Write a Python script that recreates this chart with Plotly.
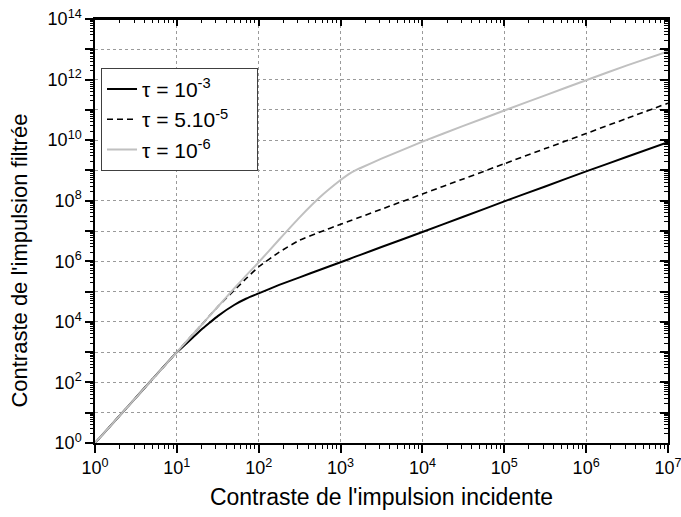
import plotly.graph_objects as go

# Contraste incident (x)
x_vals = [1e0, 3.16e0, 1e1, 1.26e1, 1.58e1, 2.0e1, 2.51e1, 3.16e1, 5.01e1, 7.08e1, 1e2, 1.78e2,
          3.16e2, 5.62e2, 1e3, 1.26e3, 1.58e3, 1.78e3, 3.16e3, 1e4, 3.16e4, 1e5, 3.16e5, 1e6,
          3.16e6, 1e7]

# tau = 1e-3
y_tau1 = [1e0, 3.16e1, 1e3, 1.74e3, 3.09e3, 5.6e3, 9.3e3, 1.55e4, 3.6e4, 5.9e4, 8.7e4, 1.66e5,
          2.95e5, 5.25e5, 9.3e5, 1.17e6, 1.48e6, 1.66e6, 2.95e6, 9.3e6, 2.95e7, 9.5e7, 2.95e8,
          9.3e8, 2.82e9, 8.5e9]
# tau = 5e-5
y_tau2 = [1e0, 3.16e1, 1e3, 2.0e3, 3.98e3, 7.9e3, 1.58e4, 3.16e4, 1.1e5, 2.75e5, 6.6e5, 2.0e6,
          5.0e6, 9.3e6, 1.66e7, 2.09e7, 2.63e7, 2.95e7, 5.25e7, 1.66e8, 5.25e8, 1.66e9, 5.25e9,
          1.66e10, 5.25e10, 1.66e11]
# tau = 1e-6
y_tau3 = [1e0, 3.16e1, 1e3, 2.0e3, 3.98e3, 7.9e3, 1.58e4, 3.16e4, 1.26e5, 3.5e5, 9.3e5, 5.25e6,
          2.82e7, 1.32e8, 4.8e8, 7.6e8, 1.07e9, 1.23e9, 2.45e9, 8.9e9, 2.95e10, 9.5e10, 3.02e11,
          9.5e11, 2.95e12, 8.5e12]

series_names = ["τ = 10<sup>-3</sup>", "τ = 5.10<sup>-5</sup>\u00a0\u00a0\u00a0\u00a0", "τ = 10<sup>-6</sup>"]
x_title = "Contraste de l'impulsion incidente"
y_title = "Contraste de l'impulsion filtrée"

x_tick_exps = [0, 1, 2, 3, 4, 5, 6, 7]
y_label_exps = [0, 2, 4, 6, 8, 10, 12, 14]
y_odd_exps = [1, 3, 5, 7, 9, 11, 13]

FONT = "Liberation Sans, Arial, sans-serif"

x_tickvals = [10 ** e for e in x_tick_exps]
x_ticktext = [f"10<sup>{e}</sup>" for e in x_tick_exps]
x_minor = [m * 10 ** e for e in range(0, 7) for m in range(2, 10)]
y_labvals = [10 ** e for e in y_label_exps]
y_labtext = [f"10<sup>{e}</sup>" for e in y_label_exps]
y_oddvals = [10 ** e for e in y_odd_exps]
y_allvals = [10 ** e for e in range(0, 15)]
y_minor = [m * 10 ** e for e in range(0, 14) for m in range(2, 10)]

fig = go.Figure()
fig.add_trace(go.Scatter(x=x_vals, y=y_tau1, mode="lines", name=series_names[0],
                         line=dict(color="black", width=2, shape="spline", smoothing=0.4)))
fig.add_trace(go.Scatter(x=x_vals, y=y_tau2, mode="lines", name=series_names[1],
                         line=dict(color="black", width=1.6, dash="6px,4px", shape="spline", smoothing=0.4)))
fig.add_trace(go.Scatter(x=x_vals, y=y_tau3, mode="lines", name=series_names[2],
                         line=dict(color="#c0c0c0", width=2, shape="spline", smoothing=0.4)))

GRID = dict(gridcolor="#9a9a9a", gridwidth=1, griddash="dot")

fig.update_layout(
    width=681, height=517,
    margin=dict(l=95, r=13, t=19, b=74),
    paper_bgcolor="white", plot_bgcolor="white",
    font=dict(family=FONT, size=18, color="black"),
    showlegend=True,
    legend=dict(x=0.0105, y=0.885, xanchor="left", yanchor="top",
                bgcolor="white", bordercolor="#404040", borderwidth=1,
                font=dict(family=FONT, size=21), tracegroupgap=2),
    xaxis=dict(type="log", range=[0, 7], tickmode="array", tickvals=x_tickvals, ticktext=x_ticktext,
               ticks="outside", ticklen=8, tickwidth=1.5, tickcolor="black",
               showline=True, linecolor="black", linewidth=1.5, mirror=True, zeroline=False,
               showgrid=True, **GRID, automargin=False, ticklabeloverflow="allow",
               minor=dict(tickmode="array", tickvals=x_minor, ticks="outside", ticklen=4,
                          tickwidth=1, tickcolor="black", showgrid=False),
               title=dict(text=x_title, font=dict(size=23), standoff=12),
               tickfont=dict(size=18)),
    yaxis=dict(type="log", range=[0, 14], tickmode="array", tickvals=y_labvals, ticktext=y_labtext,
               ticks="outside", ticklen=8, tickwidth=1.5, tickcolor="black",
               showline=True, linecolor="black", linewidth=1.5, mirror=True, zeroline=False,
               showgrid=True, **GRID, automargin=False, ticklabeloverflow="allow",
               minor=dict(tickmode="array", tickvals=y_oddvals, ticks="outside", ticklen=8,
                          tickwidth=1.5, tickcolor="black", showgrid=True, **GRID),
               tickfont=dict(size=18)),
    yaxis3=dict(type="log", range=[0, 14], overlaying="y", side="left", anchor="x",
                tickmode="array", tickvals=y_minor, ticks="outside", ticklen=4, tickwidth=1,
                tickcolor="black", showticklabels=False, showline=False, showgrid=False,
                zeroline=False, automargin=False),
    xaxis2=dict(type="log", range=[0, 7], overlaying="x", side="top", anchor="free", position=1,
                tickmode="array", tickvals=x_tickvals, showticklabels=False,
                ticks="inside", ticklen=6, tickwidth=1.5, tickcolor="black",
                showline=True, linecolor="black", linewidth=1.5, showgrid=False,
                zeroline=False, automargin=False,
                minor=dict(tickmode="array", tickvals=x_minor, ticks="inside", ticklen=3,
                           tickwidth=1, tickcolor="black", showgrid=False)),
    yaxis2=dict(type="log", range=[0, 14], overlaying="y", side="right", anchor="x",
                tickmode="array", tickvals=y_allvals, showticklabels=False,
                ticks="inside", ticklen=8, tickwidth=1.5, tickcolor="black",
                showline=True, linecolor="black", linewidth=1.5, showgrid=False,
                zeroline=False, automargin=False,
                minor=dict(tickmode="array", tickvals=y_minor, ticks="inside", ticklen=4,
                           tickwidth=1, tickcolor="black", showgrid=False)),
    annotations=[dict(text=y_title, textangle=-90, xref="paper", yref="paper",
                      x=-0.131, y=0.43, xanchor="center", yanchor="middle",
                      showarrow=False, font=dict(family=FONT, size=22, color="black"))],
)

# invisible traces to activate the extra tick axes
fig.add_trace(go.Scatter(x=[x_vals[0]], y=[y_tau1[0]], xaxis="x2", yaxis="y", mode="markers",
                         marker=dict(opacity=0), showlegend=False, hoverinfo="skip"))
fig.add_trace(go.Scatter(x=[x_vals[0]], y=[y_tau1[0]], xaxis="x", yaxis="y2", mode="markers",
                         marker=dict(opacity=0), showlegend=False, hoverinfo="skip"))
fig.add_trace(go.Scatter(x=[x_vals[0]], y=[y_tau1[0]], xaxis="x", yaxis="y3", mode="markers",
                         marker=dict(opacity=0), showlegend=False, hoverinfo="skip"))

fig.write_html("out.html", config={"displayModeBar": False},
               post_script="document.body.style.margin='0';")
